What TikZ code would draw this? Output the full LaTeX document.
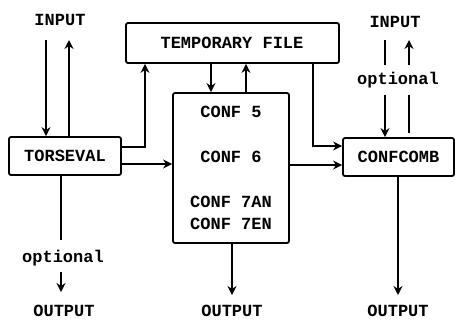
\documentclass[tikz,border=0pt]{standalone}
\usepackage{fontspec}
\setmainfont{Liberation Mono}
\usetikzlibrary{arrows.meta}
\tikzset{
  box/.style={draw, line width=1.8pt, rounded corners=2pt, inner sep=0pt},
  lbl/.style={inner sep=0pt, font=\fontsize{17}{20}\selectfont\bfseries},
  arr/.style={line width=1.8pt, -{Stealth[length=9pt,width=9pt]}},
  ln/.style={line width=1.8pt}
}
\begin{document}
\begin{tikzpicture}[x=1pt,y=-1pt]
\useasboundingbox (0,0) rectangle (457,322);
% boxes
\node[box, minimum width=112pt, minimum height=38pt] (tors) at (65,156) {};
\node[lbl] (torsT) at (65,156) {TORSEVAL};
\node[box, minimum width=213pt, minimum height=40pt] (temp) at (232.5,43) {};
\node[lbl] (tempT) at (232,43) {TEMPORARY FILE};
\node[box, minimum width=116pt, minimum height=150pt] (conf) at (231,168) {};
\node[lbl] (c5) at (231,112) {CONF 5};
\node[lbl] (c6) at (231,157) {CONF 6};
\node[lbl] (c7a) at (231,202) {CONF 7AN};
\node[lbl] (c7e) at (231,224) {CONF 7EN};
\node[box, minimum width=111pt, minimum height=38pt] (comb) at (398.5,157) {};
\node[lbl] (combT) at (398.5,157) {CONFCOMB};
% texts
\node[lbl] (in1) at (60,20) {INPUT};
\node[lbl] (in2) at (395,22) {INPUT};
\node[lbl] (opt2) at (398,80) {optional};
\node[lbl] (opt1) at (63,258) {optional};
\node[lbl] (out1) at (64,311) {OUTPUT};
\node[lbl] (out2) at (232,311) {OUTPUT};
\node[lbl] (out3) at (398,311) {OUTPUT};
% coordinates
\coordinate (a1) at (46,40);
\coordinate (a2) at (69,40);
\coordinate (b1) at (385,40);
\coordinate (b2) at (385,65);
\coordinate (b3) at (385,95);
\coordinate (d1) at (409,40);
\coordinate (d2) at (409,65);
\coordinate (d3) at (409,95);
\coordinate (e1) at (61,240);
\coordinate (e2) at (61,272);
\coordinate (e3) at (61,292);
\coordinate (f1) at (232,295);
\coordinate (g1) at (398,295);
% connectors
\draw[arr] (a1) -- (a1 |- tors.north);
\draw[arr] (a2 |- tors.north) -- (a2);
\draw[arr] (tors.east |- 0,147) -| (145,0 |- temp.south);
\draw[arr] (211,0 |- temp.south) -- (211,0 |- conf.north);
\draw[arr] (246,0 |- conf.north) -- (246,0 |- temp.south);
\draw[arr] (313,0 |- temp.south) |- (comb.west |- 0,146);
\draw[arr] (tors.east |- 0,164) -- (conf.west |- 0,164);
\draw[arr] (conf.east |- 0,165) -- (comb.west |- 0,165);
\draw[ln] (b1) -- (b2);
\draw[arr] (b3) -- (b3 |- comb.north);
\draw[ln] (d3 |- comb.north) ++(0,-4) -- (d3);
\draw[arr] (d2) -- (d1);
\draw[arr] (g1 |- comb.south) -- (g1);
\draw[arr] (f1 |- conf.south) -- (f1);
\draw[ln] (e1 |- tors.south) -- (e1);
\draw[arr] (e2) -- (e3);
\end{tikzpicture}
\end{document}
